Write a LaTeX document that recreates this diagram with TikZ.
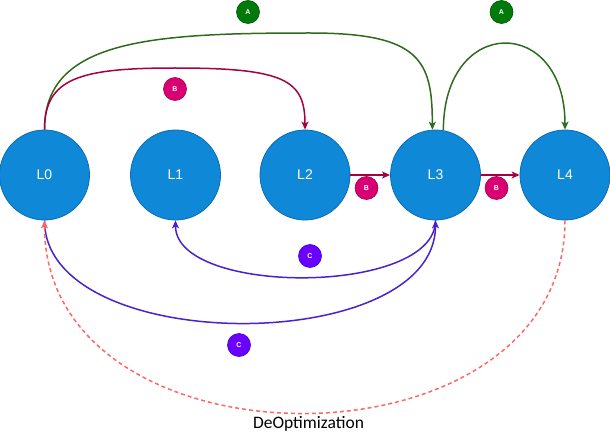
\documentclass[tikz,border=0pt]{standalone}
\usepackage{fontspec}
\setmainfont{Liberation Sans}
\newfontfamily\captionfont{Carlito}
\usetikzlibrary{arrows.meta}
\definecolor{lvlfill}{HTML}{1088D8}
\definecolor{lvldraw}{HTML}{0B6BB0}
\definecolor{gline}{HTML}{2E6B1E}
\definecolor{gbadge}{HTML}{007A0A}
\definecolor{gbadgedraw}{HTML}{005700}
\definecolor{bline}{HTML}{A50040}
\definecolor{bbadge}{HTML}{D80073}
\definecolor{bbadgedraw}{HTML}{A50040}
\definecolor{cline}{HTML}{4A22CC}
\definecolor{cbadge}{HTML}{6A00FF}
\definecolor{cbadgedraw}{HTML}{3700CC}
\definecolor{deopt}{HTML}{FF6666}
\tikzset{
  lvl/.style={circle, minimum size=90, inner sep=0, fill=lvlfill, draw=lvldraw, line width=0.8,
    text=white, font=\fontsize{14}{14}\selectfont},
  badge/.style={circle, minimum size=23, inner sep=0, line width=0.6, text=white,
    font=\bfseries\fontsize{7}{7}\selectfont},
  conn/.style={line width=1.5, -{Stealth[length=8,width=7,inset=2]}},
}
\begin{document}
\begin{tikzpicture}[x=1pt,y=-1pt]
\useasboundingbox (0,0) rectangle (610,433);
\node[lvl] (L0) at (44.5,175) {L0};
\node[lvl] (L1) at (175.5,175) {L1};
\node[lvl] (L2) at (305,175) {L2};
\node[lvl] (L3) at (435.5,175) {L3};
\node[lvl] (L4) at (565,175) {L4};

\node[badge, fill=gbadge, draw=gbadgedraw] (A1) at (248,12) {A};
\node[badge, fill=gbadge, draw=gbadgedraw] (A2) at (501.5,12) {A};
\node[badge, fill=bbadge, draw=bbadgedraw] (B1) at (175,89) {B};
\node[badge, fill=bbadge, draw=bbadgedraw] (B2) at (366.5,188) {B};
\node[badge, fill=bbadge, draw=bbadgedraw] (B3) at (496.5,188) {B};
\node[badge, fill=cbadge, draw=cbadgedraw] (C1) at (310,256) {C};
\node[badge, fill=cbadge, draw=cbadgedraw] (C2) at (239,345) {C};

% A edges
\draw[conn, gline] (L0.north) .. controls (44.5,40) and (150,33) .. (310,33)
  .. controls (420,33) and (432.4,60) .. (L3.94);
\draw[conn, gline] (L3.80) .. controls (443.3,15) and (565,15) .. (L4.north);
% B edges
\draw[conn, bline] (L0.north) .. controls (44.5,78) and (80,68) .. (175,68)
  .. controls (285,68) and (305,80) .. (L2.north);
\draw[conn, bline] (L2.east) -- (L3.west);
\draw[conn, bline] (L3.east) -- (L4.west);
% C edges
\draw[conn, cline] (L0.south) .. controls (44.5,357) and (435.5,357) .. (L3.south);
\draw[conn, cline] (L3.south) .. controls (435.5,296) and (175.5,296) .. (L1.south);
% Deoptimization
\draw[conn, deopt, dash pattern=on 4 off 3] (L4.south) .. controls (565,477) and (44.5,477) .. (L0.south);
\node[anchor=base, font=\captionfont\fontsize{17.5}{17.5}\selectfont] (deo) at (308.5,428) {DeOptimization};
\end{tikzpicture}
\end{document}
